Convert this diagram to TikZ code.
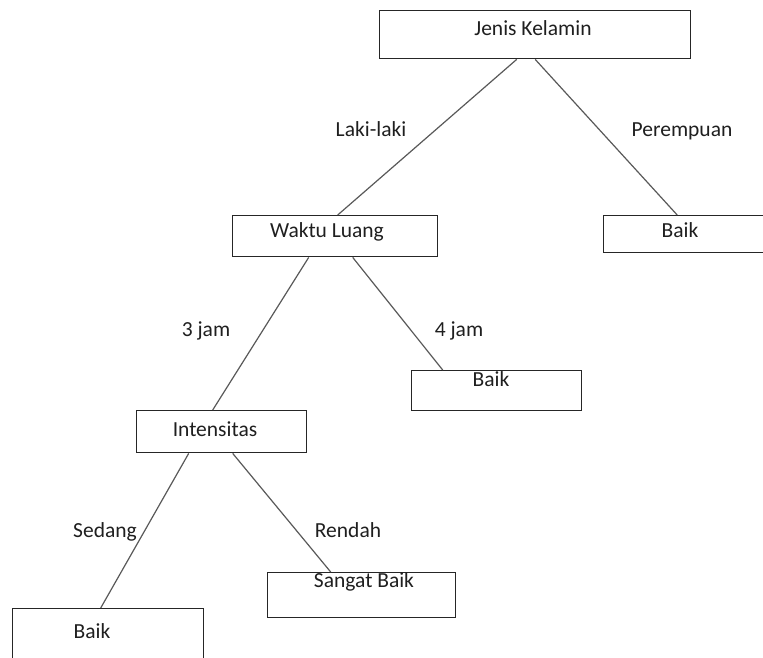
\documentclass[tikz,border=0pt]{standalone}
\usepackage{fontspec}
\setmainfont{Carlito}
\usetikzlibrary{calc}
\begin{document}
\begin{tikzpicture}[x=1pt,y=-1pt,
  box/.style={draw=black!85,line width=1.4pt,inner sep=0pt,anchor=north west},
  txt/.style={inner sep=0pt,anchor=base,text=black!88,font=\fontsize{21.5}{25}\selectfont},
  edge/.style={draw=black!65,line width=1.2pt}]
\useasboundingbox[fill=white] (0,0) rectangle (763,658);
% boxes
\node[box,minimum width=311pt,minimum height=48pt] (jk) at (379,10) {};
\node[box,minimum width=205pt,minimum height=41pt] (wl) at (232,215) {};
\node[box,minimum width=175pt,minimum height=37pt] (b1) at (603,215) {};
\node[box,minimum width=170pt,minimum height=42pt] (in) at (136,410) {};
\node[box,minimum width=170pt,minimum height=40pt] (b2) at (411,370) {};
\node[box,minimum width=191pt,minimum height=80pt] (b3) at (12,608) {};
\node[box,minimum width=188pt,minimum height=45pt] (sb) at (267,572) {};
% box texts
\node[txt] (jkt) at (533,36) {Jenis Kelamin};
\node[txt] (wlt) at (327,237) {Waktu Luang};
\node[txt] (b1t) at (680,237) {Baik};
\node[txt] (int) at (215,436) {Intensitas};
\node[txt] (b2t) at (491,386) {Baik};
\node[txt] (b3t) at (92,638) {Baik};
\node[txt] (sbt) at (364,587) {Sangat Baik};
% edge labels
\node[txt] (l1) at (371,137) {Laki-laki};
\node[txt] (l2) at (682,137) {Perempuan};
\node[txt] (l3) at (206,336) {3 jam};
\node[txt] (l4) at (459,336) {4 jam};
\node[txt] (l5) at (105,537) {Sedang};
\node[txt] (l6) at (348,537) {Rendah};
% edges
\draw[edge] ([xshift=-18.5pt]jk.south) -- ([xshift=2.5pt]wl.north);
\draw[edge] ([xshift=0pt]jk.south) -- ([xshift=-14pt]b1.north);
\draw[edge] ([xshift=-26.5pt]wl.south) -- ([xshift=-9pt]in.north);
\draw[edge] ([xshift=17.5pt]wl.south) -- ([xshift=-54pt]b2.north);
\draw[edge] ([xshift=-33pt]in.south) -- ([xshift=-7.5pt]b3.north);
\draw[edge] ([xshift=11pt]in.south) -- ([xshift=-31pt]sb.north);
\end{tikzpicture}
\end{document}
